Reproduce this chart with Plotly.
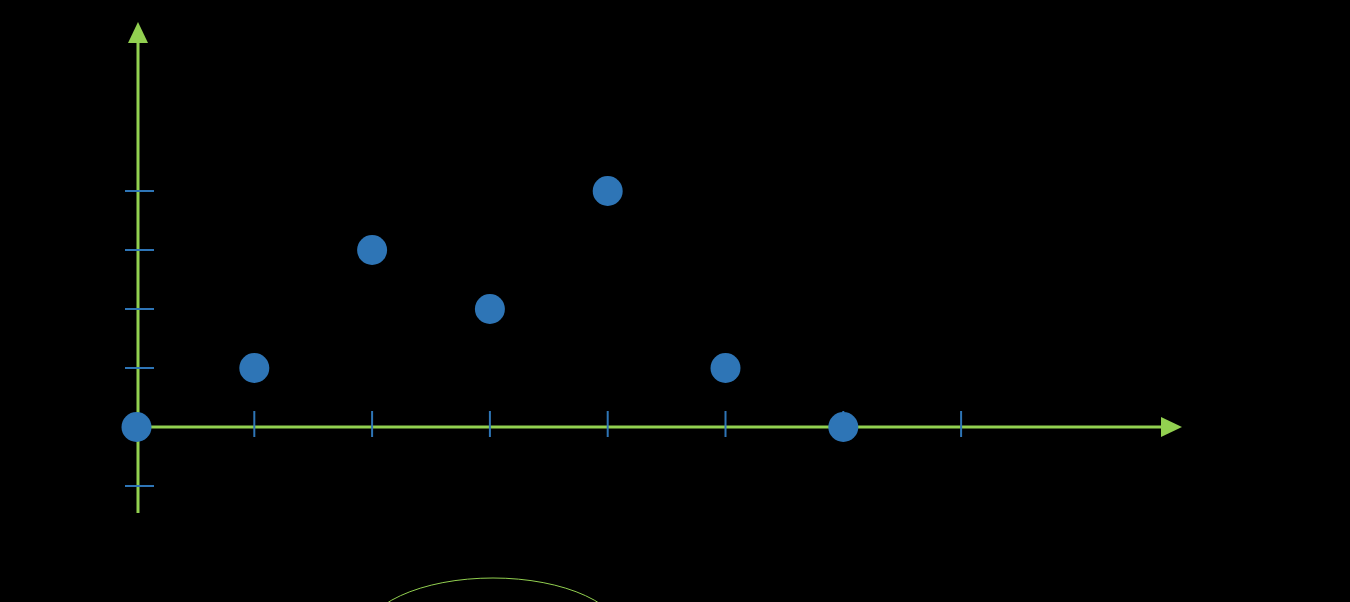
import plotly.graph_objects as go

# Data
x_vals = [0, 1, 2, 3, 4, 5, 6]
y_vals = [0, 1, 3, 2, 4, 1, 0]
x_ticks = [1, 2, 3, 4, 5, 6, 7]
y_ticks = [-1, 1, 2, 3, 4]

GREEN = "#92D050"
BLUE = "#2E75B6"

W, H = 1350, 602
# pixel mapping: px = X0 + SX*x ; py = Y0 - SY*y
X0, SX = 136.5, 117.8
Y0, SY = 427.0, 59.0
def dx(px):
    return (px - X0) / SX
def dy(py):
    return (Y0 - py) / SY

fig = go.Figure()

shapes = []
# axes lines
shapes.append(dict(type="line", x0=dx(138), x1=dx(138), y0=dy(513), y1=dy(40),
                   line=dict(color=GREEN, width=3), layer="below"))
shapes.append(dict(type="line", x0=dx(138), x1=dx(1163), y0=0, y1=0,
                   line=dict(color=GREEN, width=3), layer="below"))
# arrowheads
shapes.append(dict(type="path",
                   path=f"M {dx(128)},{dy(43)} L {dx(148)},{dy(43)} L {dx(138)},{dy(22)} Z",
                   fillcolor=GREEN, line=dict(width=0), layer="below"))
shapes.append(dict(type="path",
                   path=f"M {dx(1161)},{dy(417)} L {dx(1161)},{dy(437)} L {dx(1182)},{dy(427)} Z",
                   fillcolor=GREEN, line=dict(width=0), layer="below"))
# tick marks
for t in x_ticks:
    shapes.append(dict(type="line", x0=t, x1=t, y0=dy(437), y1=dy(411),
                       line=dict(color=BLUE, width=2), layer="below"))
for t in y_ticks:
    shapes.append(dict(type="line", x0=dx(125), x1=dx(154), y0=t, y1=t,
                       line=dict(color=BLUE, width=2), layer="below"))
# partial ellipse at the bottom
shapes.append(dict(type="circle", x0=dx(362), x1=dx(624), y0=dy(699), y1=dy(578),
                   line=dict(color=GREEN, width=1), layer="below"))

fig.add_trace(go.Scatter(
    x=x_vals, y=y_vals, mode="markers",
    marker=dict(size=30, color=BLUE, line=dict(width=0)),
    hoverinfo="x+y", showlegend=False,
))

fig.update_layout(
    width=W, height=H,
    margin=dict(l=0, r=0, t=0, b=0),
    paper_bgcolor="black", plot_bgcolor="black",
    xaxis=dict(range=[dx(0), dx(W)], visible=False, fixedrange=True),
    yaxis=dict(range=[dy(H), dy(0)], visible=False, fixedrange=True),
    shapes=shapes,
    showlegend=False,
)

fig.write_html(
    "out.html",
    config={"displayModeBar": False},
    post_script="document.body.style.margin='0';document.body.style.background='black';document.body.style.overflow='hidden';",
)
